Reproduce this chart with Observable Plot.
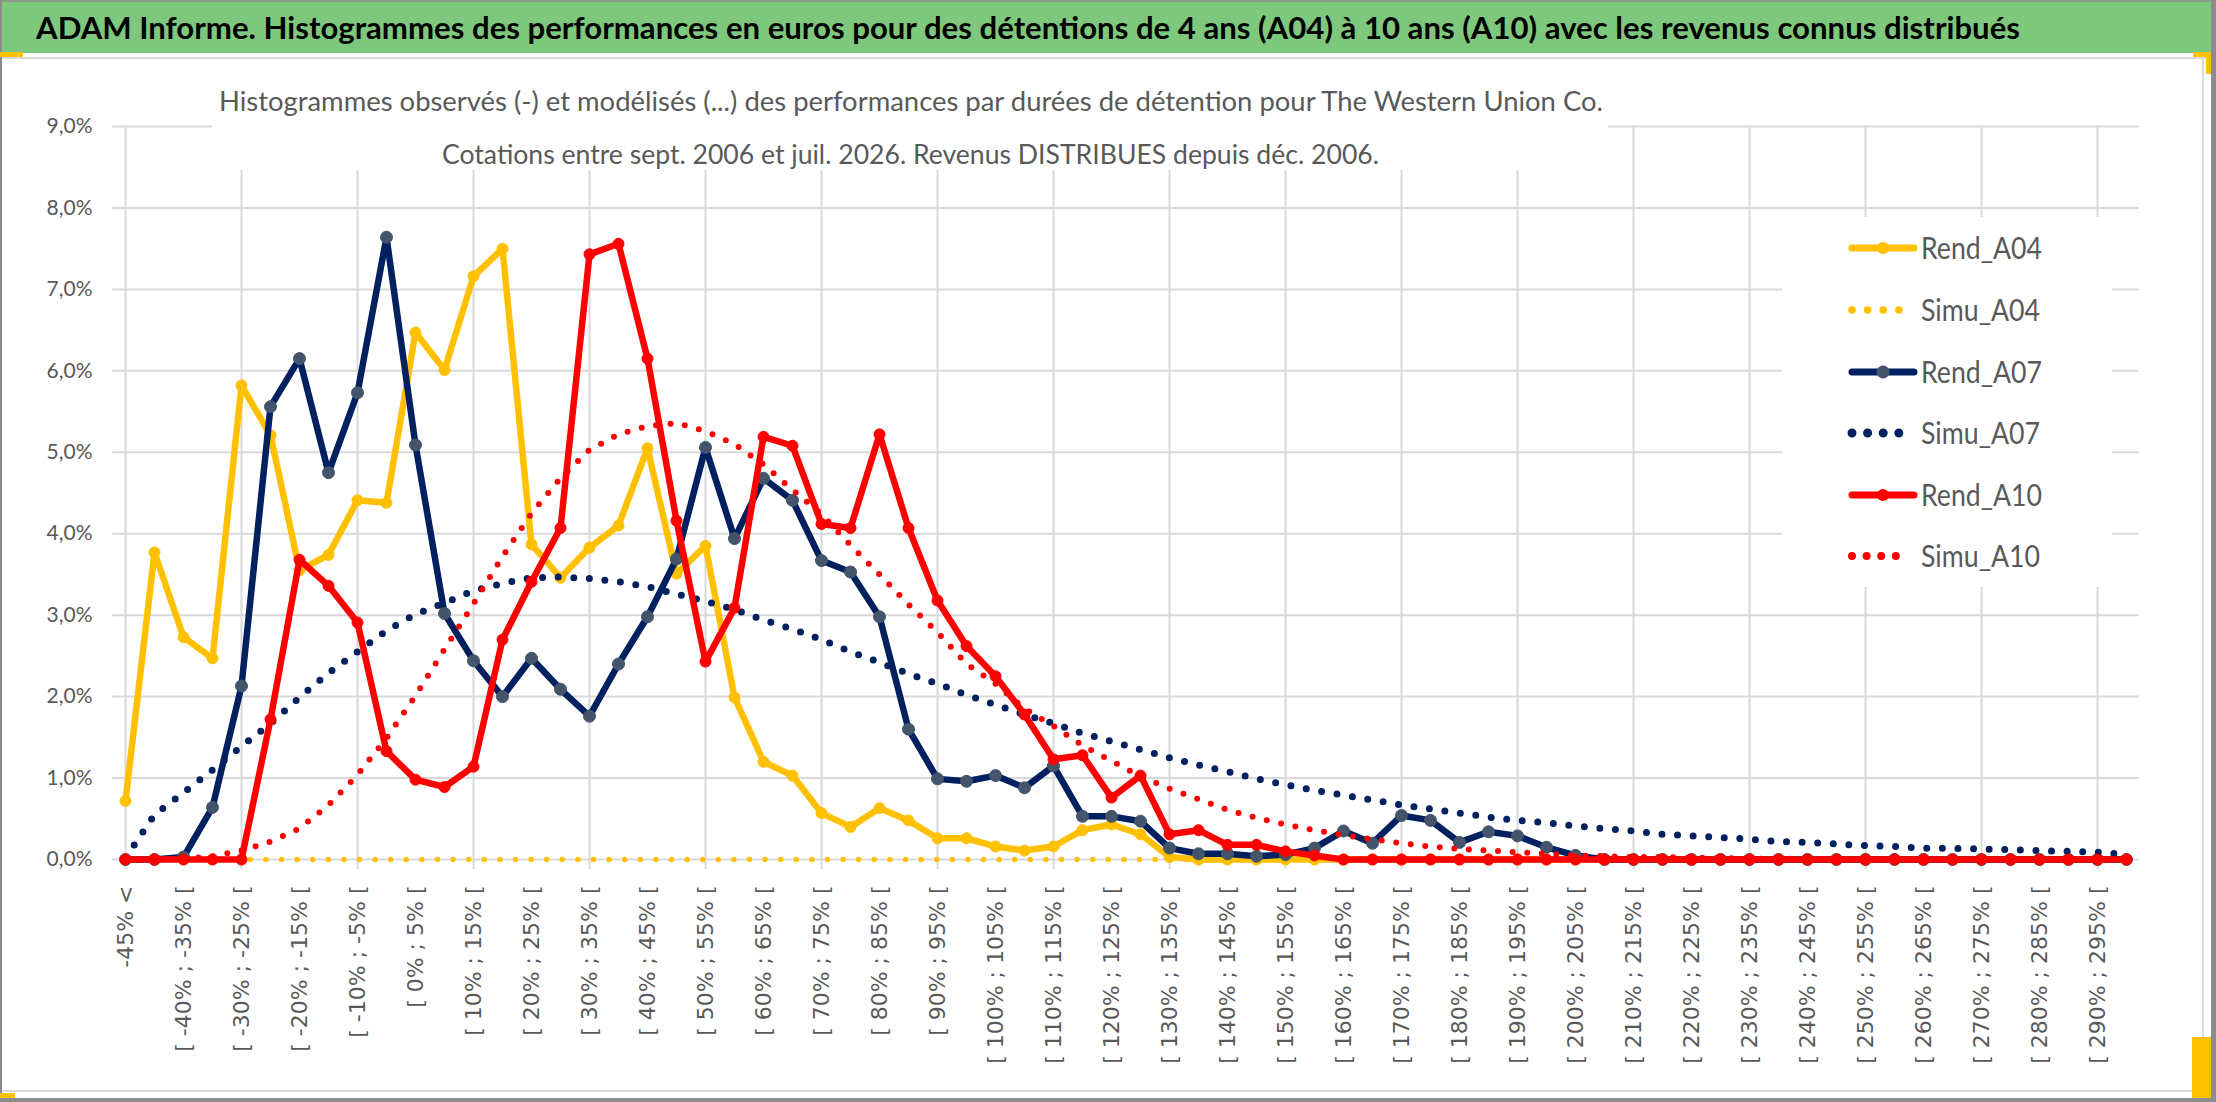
<!DOCTYPE html>
<html><head><meta charset="utf-8">
<script src="https://cdn.jsdelivr.net/npm/d3@7"></script>
<script src="https://cdn.jsdelivr.net/npm/@observablehq/plot@0.6"></script>
<style>
html,body{margin:0;padding:0;background:#fff;}
#page{position:relative;width:2216px;height:1102px;overflow:hidden;background:#fff;}
#banner{position:absolute;left:0;top:0;width:2216px;height:53px;background:#7ec87e;border-top:2px solid #8c9c8c;box-sizing:border-box;}
.fit{position:absolute;white-space:nowrap;line-height:1;transform-origin:0 0;font-family:Lato,"DejaVu Sans",sans-serif;}
#plotwrap{position:absolute;left:0;top:57px;}
#titlebox{position:absolute;left:212px;top:78px;width:1396px;height:92px;background:#fff;}
#legend{position:absolute;left:1782px;top:217px;width:330px;height:370px;background:#fff;}
.frame{position:absolute;}
</style>
</head><body>
<div id="page">
  <div id="plotwrap"></div>
  <div id="banner"></div>
  <div class="frame" style="left:0;top:57px;width:2216px;height:2px;background:#d9d9d9"></div>
  <div class="frame" style="left:0;top:1090px;width:2216px;height:2px;background:#d9d9d9"></div>
  <div class="frame" style="left:2202px;top:57px;width:2px;height:1035px;background:#d9d9d9"></div>
  <div class="frame" style="left:0;top:0;width:2px;height:1102px;background:#8c8c8c"></div>
  <div class="frame" style="left:2211px;top:0;width:5px;height:1102px;background:#8c8c8c"></div>
  <div class="frame" style="left:0;top:1098px;width:2216px;height:4px;background:#8c8c8c"></div>
  <div class="frame" style="left:0;top:52px;width:23px;height:5px;background:#ffc000"></div>
  <div class="frame" style="left:2193px;top:52px;width:18px;height:5px;background:#ffc000"></div>
  <div class="frame" style="left:2206px;top:52px;width:5px;height:22px;background:#ffc000"></div>
  <div class="frame" style="left:0;top:1093px;width:15px;height:5px;background:#ffc000"></div>
  <div class="frame" style="left:2192px;top:1037px;width:19px;height:61px;background:#ffc000"></div>
  <div id="titlebox"></div>
  <div id="legend"></div>
</div>
<script>
// ---------------- data ----------------
const categories = [
  "-45% <",
  "[ -45% ; -40% [", "[ -40% ; -35% [", "[ -35% ; -30% [", "[ -30% ; -25% [", "[ -25% ; -20% [",
  "[ -20% ; -15% [", "[ -15% ; -10% [", "[ -10% ; -5% [", "[ -5% ; 0% [", "[ 0% ; 5% [",
  "[ 5% ; 10% [", "[ 10% ; 15% [", "[ 15% ; 20% [", "[ 20% ; 25% [", "[ 25% ; 30% [",
  "[ 30% ; 35% [", "[ 35% ; 40% [", "[ 40% ; 45% [", "[ 45% ; 50% [", "[ 50% ; 55% [",
  "[ 55% ; 60% [", "[ 60% ; 65% [", "[ 65% ; 70% [", "[ 70% ; 75% [", "[ 75% ; 80% [",
  "[ 80% ; 85% [", "[ 85% ; 90% [", "[ 90% ; 95% [", "[ 95% ; 100% [", "[ 100% ; 105% [",
  "[ 105% ; 110% [", "[ 110% ; 115% [", "[ 115% ; 120% [", "[ 120% ; 125% [", "[ 125% ; 130% [",
  "[ 130% ; 135% [", "[ 135% ; 140% [", "[ 140% ; 145% [", "[ 145% ; 150% [", "[ 150% ; 155% [",
  "[ 155% ; 160% [", "[ 160% ; 165% [", "[ 165% ; 170% [", "[ 170% ; 175% [", "[ 175% ; 180% [",
  "[ 180% ; 185% [", "[ 185% ; 190% [", "[ 190% ; 195% [", "[ 195% ; 200% [", "[ 200% ; 205% [",
  "[ 205% ; 210% [", "[ 210% ; 215% [", "[ 215% ; 220% [", "[ 220% ; 225% [", "[ 225% ; 230% [",
  "[ 230% ; 235% [", "[ 235% ; 240% [", "[ 240% ; 245% [", "[ 245% ; 250% [", "[ 250% ; 255% [",
  "[ 255% ; 260% [", "[ 260% ; 265% [", "[ 265% ; 270% [", "[ 270% ; 275% [", "[ 275% ; 280% [",
  "[ 280% ; 285% [", "[ 285% ; 290% [", "[ 290% ; 295% [", "[ 295% ; 300% ["
];

// values in %
const rendA04 = [0.72,3.77,2.73,2.47,5.82,5.21,3.55,3.74,4.41,4.38,
  6.47,6.01,7.16,7.50,3.87,3.46,3.83,4.10,5.05,3.51,
  3.85,1.99,1.20,1.03,0.57,0.40,0.63,0.48,0.26,0.26,
  0.16,0.11,0.16,0.36,0.43,0.31,0.03,0,0,0,
  0,0,0,0,0,0,0,0,0,0,
  0,0,0,0,0,0,0,0,0,0,
  0,0,0,0,0,0,0,0,0,0];
const simuA04 = [0,0,0,0,0,0,0,0,0,0,
  0,0,0,0,0,0,0,0,0,0,
  0,0,0,0,0,0,0,0,0,0,
  0,0,0,0,0,0,0,0,0,0,
  0,0,0,0,0,0,0,0,0,0,
  0,0,0,0,0,0,0,0,0,0,
  0,0,0,0,0,0,0,0,0,0];
const rendA07 = [0,0,0.03,0.64,2.13,5.56,6.15,4.75,5.73,7.64,
  5.09,3.02,2.44,2.00,2.47,2.09,1.76,2.40,2.98,3.69,
  5.06,3.94,4.68,4.41,3.67,3.53,2.98,1.60,0.99,0.96,
  1.03,0.88,1.15,0.53,0.53,0.47,0.14,0.07,0.07,0.04,
  0.06,0.14,0.35,0.20,0.54,0.48,0.21,0.34,0.29,0.15,
  0.05,0,0,0,0,0,0,0,0,0,
  0,0,0,0,0,0,0,0,0,0];
const simuA07 = [0.02,0.55,0.82,1.10,1.39,1.67,1.99,2.29,2.55,2.81,
  3.01,3.15,3.30,3.39,3.46,3.47,3.45,3.41,3.35,3.26,
  3.17,3.07,2.94,2.83,2.70,2.55,2.42,2.28,2.16,2.02,
  1.90,1.78,1.67,1.55,1.45,1.35,1.25,1.16,1.08,0.99,
  0.92,0.85,0.79,0.73,0.67,0.62,0.57,0.52,0.48,0.45,
  0.41,0.38,0.35,0.31,0.29,0.27,0.25,0.22,0.21,0.19,
  0.17,0.16,0.14,0.135,0.13,0.12,0.11,0.10,0.09,0.06];
const rendA10 = [0,0,0,0,0,1.72,3.68,3.36,2.91,1.33,
  0.98,0.89,1.14,2.70,3.41,4.07,7.43,7.56,6.15,4.16,
  2.43,3.09,5.19,5.08,4.12,4.07,5.22,4.07,3.18,2.62,
  2.25,1.78,1.23,1.28,0.76,1.03,0.31,0.36,0.18,0.18,
  0.10,0.05,0,0,0,0,0,0,0,0,
  0,0,0,0,0,0,0,0,0,0,
  0,0,0,0,0,0,0,0,0,0];
const simuA10 = [0,0,0.01,0.04,0.11,0.22,0.38,0.67,1.04,1.49,
  2.01,2.58,3.14,3.72,4.25,4.68,5.03,5.22,5.32,5.36,
  5.26,5.10,4.85,4.54,4.24,3.86,3.50,3.13,2.79,2.40,
  2.16,1.85,1.64,1.40,1.21,1.02,0.87,0.74,0.61,0.51,
  0.43,0.36,0.30,0.25,0.20,0.16,0.13,0.11,0.09,0.07,
  0.05,0.04,0.03,0.03,0.02,0.02,0.01,0.01,0.01,0,
  0,0,0,0,0,0,0,0,0,0];

const seriesNames = ["Rend_A04","Simu_A04","Rend_A07","Simu_A07","Rend_A10","Simu_A10"];
const seriesValues = [rendA04, simuA04, rendA07, simuA07, rendA10, simuA10];
const yTicks = [0,1,2,3,4,5,6,7,8,9];
const xLabelTicks = categories.filter((d,i) => i % 2 === 0);
const xGridTicks = categories.filter((d,i) => i % 4 === 0);

const bannerTitle = "ADAM Informe. Histogrammes des performances en euros pour des détentions de 4 ans (A04) à 10 ans (A10) avec les revenus connus distribués";
const chartTitle1 = "Histogrammes observés (-) et modélisés (...) des performances par durées de détention pour The Western Union Co.";
const chartTitle2 = "Cotations entre sept. 2006 et juil. 2026. Revenus DISTRIBUES depuis déc. 2006.";

// ---------------- styles ----------------
const styles = {
  Rend_A04: {color:"#ffc000", marker:"#ffc000", width:6.5, r:5.5, dotted:false},
  Simu_A04: {color:"#ffc000", width:5.5, gap:15.6, dotted:true},
  Rend_A07: {color:"#002060", marker:"#44546a", width:6.5, r:6, dotted:false},
  Simu_A07: {color:"#002060", width:7, gap:15.6, dotted:true},
  Rend_A10: {color:"#ff0000", marker:"#ff0000", width:6.5, r:5.5, dotted:false},
  Simu_A10: {color:"#ff0000", width:6, gap:14.6, dotted:true}
};

const table = [];
seriesNames.forEach((name, s) => {
  seriesValues[s].forEach((v, i) => table.push({series: name, cat: categories[i], value: v}));
});

const fmt = d => d.toFixed(1).replace(".", ",") + "%";

const marks = [
  Plot.gridY(yTicks, {stroke:"#d9d9d9", strokeOpacity:1, strokeWidth:2}),
  Plot.gridX(xGridTicks, {stroke:"#d9d9d9", strokeOpacity:1, strokeWidth:2, insetBottom:-10}),
  Plot.axisY({ticks: yTicks, tickFormat: fmt, tickSize: 0, tickPadding: 20,
    fontFamily: "Lato", fontSize: 21, fill: "#595959"}),
  Plot.axisX({ticks: xLabelTicks, tickRotate: -90, tickSize: 0, tickPadding: 26,
    fontFamily: "DejaVu Sans", fontSize: 22, fill: "#595959"})
];
seriesNames.forEach(name => {
  const st = styles[name];
  const data = table.filter(d => d.series === name);
  if (st.dotted) {
    marks.push(Plot.line(data, {x:"cat", y:"value", stroke: st.color, strokeWidth: st.width,
      strokeDasharray: `0 ${st.gap}`, strokeLinecap: "round", strokeLinejoin: "round"}));
  } else {
    marks.push(Plot.line(data, {x:"cat", y:"value", stroke: st.color, strokeWidth: st.width,
      strokeLinejoin: "round", strokeLinecap: "round"}));
    marks.push(Plot.dot(data, {x:"cat", y:"value", r: st.r, fill: st.marker, stroke: st.marker, strokeWidth: 1}));
  }
});

const chart = Plot.plot({
  width: 2216,
  height: 1045,
  marginLeft: 112,
  marginRight: 77,
  marginTop: 69,
  marginBottom: 243,
  x: {type: "point", domain: categories, padding: 0, label: null},
  y: {domain: [0, 9], label: null},
  style: {background: "transparent", color: "#595959", overflow: "visible"},
  marks
});
document.getElementById("plotwrap").appendChild(chart);

// ---------------- texts ----------------
const page = document.getElementById("page");
function placeText(txt, opts) {
  const el = document.createElement("span");
  el.className = "fit";
  el.textContent = txt;
  el.style.fontSize = opts.fontSize + "px";
  el.style.fontWeight = opts.bold ? "700" : "400";
  el.style.color = opts.color;
  page.appendChild(el);
  const w = el.getBoundingClientRect().width;
  const sx = opts.width ? opts.width / w : 1;
  let left = opts.left;
  if (opts.center !== undefined) left = opts.center - (opts.width || w) / 2;
  el.style.left = left + "px";
  el.style.top = (opts.capCenter - 0.529 * opts.fontSize) + "px";
  el.style.transform = `scaleX(${sx})`;
  return el;
}
placeText(bannerTitle, {fontSize: 31, bold: true, color: "#000", left: 36, width: 1984, capCenter: 28});
placeText(chartTitle1, {fontSize: 26, color: "#595959", center: 911, width: 1384, capCenter: 102});
placeText(chartTitle2, {fontSize: 26, color: "#595959", center: 910, width: 937, capCenter: 155});

// ---------------- legend ----------------
const legend = document.getElementById("legend");
const rowY = [248, 310, 372, 433, 495, 556];
const ns = "http://www.w3.org/2000/svg";
const lsvg = document.createElementNS(ns, "svg");
lsvg.setAttribute("width", 330); lsvg.setAttribute("height", 370);
lsvg.style.position = "absolute"; lsvg.style.left = "0"; lsvg.style.top = "0";
legend.appendChild(lsvg);
seriesNames.forEach((name, i) => {
  const st = styles[name];
  const cy = rowY[i] - 217;
  const ln = document.createElementNS(ns, "line");
  if (st.dotted) {
    const n = name === "Simu_A10" ? 4 : 3;
    ln.setAttribute("x1", 1852 - 1782); ln.setAttribute("x2", 1852 - 1782 + n * st.gap);
    ln.setAttribute("stroke-dasharray", `0 ${st.gap}`);
    ln.setAttribute("stroke-width", st.width + 2);
  } else {
    ln.setAttribute("x1", 1852 - 1782); ln.setAttribute("x2", 1914 - 1782);
    ln.setAttribute("stroke-width", 7);
  }
  ln.setAttribute("y1", cy); ln.setAttribute("y2", cy);
  ln.setAttribute("stroke", st.color);
  ln.setAttribute("stroke-linecap", "round");
  lsvg.appendChild(ln);
  if (!st.dotted) {
    const c = document.createElementNS(ns, "circle");
    c.setAttribute("cx", 1883 - 1782); c.setAttribute("cy", cy); c.setAttribute("r", st.r + 0.5);
    c.setAttribute("fill", st.marker);
    lsvg.appendChild(c);
  }
  placeText(name, {fontSize: 30, color: "#595959", left: 1921, width: name.startsWith("Rend") ? 121 : 119, capCenter: rowY[i]});
});
</script>
</body></html>
